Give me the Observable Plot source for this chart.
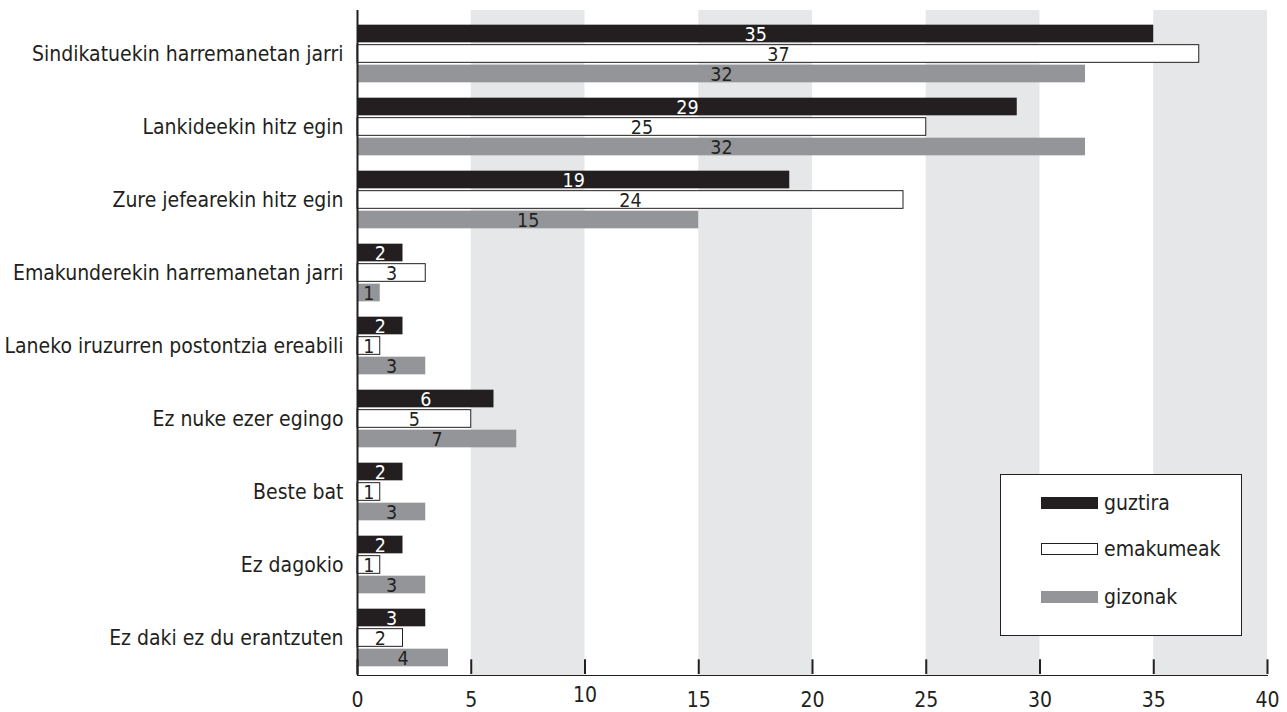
<!DOCTYPE html>
<html>
<head>
<meta charset="utf-8">
<script src="https://cdn.jsdelivr.net/npm/d3@7"></script>
<script src="https://cdn.jsdelivr.net/npm/@observablehq/plot@0.6"></script>
<style>
  body { margin: 0; background: #fff; }
  #wrap { position: relative; width: 1287px; height: 712px; }
  #legend { position: absolute; left: 1000px; top: 474px; width: 240px; height: 160px; border: 1px solid #231f20; background: #fff;
    font-family: "Liberation Sans Narrow", "DejaVu Sans Condensed", sans-serif; font-size: 21px; color: #231f20; }
  .item { position: absolute; left: 40px; display: flex; align-items: center; }
  .sw { width: 57px; height: 12px; margin-right: 6px; box-sizing: border-box; }
</style>
</head>
<body>
<div id="wrap"></div>
<script>
const categories = [
  "Sindikatuekin harremanetan jarri",
  "Lankideekin hitz egin",
  "Zure jefearekin hitz egin",
  "Emakunderekin harremanetan jarri",
  "Laneko iruzurren postontzia ereabili",
  "Ez nuke ezer egingo",
  "Beste bat",
  "Ez dagokio",
  "Ez daki ez du erantzuten"
];
const seriesNames = ["guztira", "emakumeak", "gizonak"];
const guztira   = [35, 29, 19, 2, 2, 6, 2, 2, 3];
const emakumeak = [37, 25, 24, 3, 1, 5, 1, 1, 2];
const gizonak   = [32, 32, 15, 1, 3, 7, 3, 3, 4];
const xTicks = [0, 5, 10, 15, 20, 25, 30, 35, 40];

const seriesValues = [guztira, emakumeak, gizonak];
const fills = ["#231f20", "#ffffff", "#939598"];
const labelFills = ["#ffffff", "#231f20", "#231f20"];
const font = "'Liberation Sans Narrow', 'DejaVu Sans Condensed', sans-serif";

const bandH = 660 / categories.length;
const barH = 18, gap = 2;
const outer = (bandH - (3 * barH + 2 * gap)) / 2;

const marks = [];
// alternating shaded bands
const bands = xTicks.slice(0, -1).map((t, i) => ({x1: t, x2: xTicks[i + 1], i})).filter(d => d.i % 2 === 1);
marks.push(Plot.rect(bands, {x1: "x1", x2: "x2", fill: "#e6e7e8"}));

seriesValues.forEach((vals, s) => {
  const data = categories.map((c, i) => ({category: c, value: vals[i]}));
  const top = outer + s * (barH + gap);
  marks.push(Plot.barX(data, {
    x: "value", y: "category",
    insetTop: top, insetBottom: bandH - top - barH,
    fill: fills[s],
    stroke: s === 1 ? "#231f20" : "none", strokeWidth: 1
  }));
  marks.push(Plot.text(data, {
    x: d => d.value / 2, y: "category", text: d => String(d.value),
    dy: (s - 1) * (barH + gap) + 1,
    fill: labelFills[s], fontSize: 19.5, fontFamily: font
  }));
});

// ticks pointing up from the axis
const lastCat = categories[categories.length - 1];
marks.push(Plot.tickX(xTicks.map(t => ({t, c: lastCat})), {x: "t", y: "c", insetTop: bandH - 15, stroke: "#231f20", strokeWidth: 2}));
marks.push(Plot.ruleX([0], {stroke: "#231f20", strokeWidth: 2}));

const chart = Plot.plot({
  width: 1287,
  height: 712,
  marginLeft: 357,
  marginRight: 20,
  marginTop: 10,
  marginBottom: 37,
  style: {fontFamily: font, fontSize: "21px", color: "#231f20", background: "#fff"},
  x: {domain: [0, 40], ticks: xTicks, tickSize: 0, tickPadding: 17, line: true, label: null},
  y: {domain: categories, range: [15, 675], padding: 0, tickSize: 0, tickPadding: 14, label: null},
  marks
});
document.getElementById("wrap").appendChild(chart);
// the source chart draws the "10" label slightly raised
chart.querySelectorAll("text").forEach(t => {
  if (t.textContent === "10" && t.closest("g[aria-label='x-axis tick label'], g[aria-label='x-axis']")) {
    t.setAttribute("dy", "-0.25em");
  }
});

// legend
const legend = document.createElement("div");
legend.id = "legend";
const tops = [16, 62, 110];
seriesNames.forEach((n, s) => {
  const it = document.createElement("div");
  it.className = "item";
  it.style.top = tops[s] + "px";
  const sw = document.createElement("div");
  sw.className = "sw";
  sw.style.background = fills[s];
  if (s === 1) sw.style.border = "1px solid #231f20";
  const tx = document.createElement("span");
  tx.textContent = n;
  it.appendChild(sw); it.appendChild(tx);
  legend.appendChild(it);
});
document.getElementById("wrap").appendChild(legend);
</script>
</body>
</html>
